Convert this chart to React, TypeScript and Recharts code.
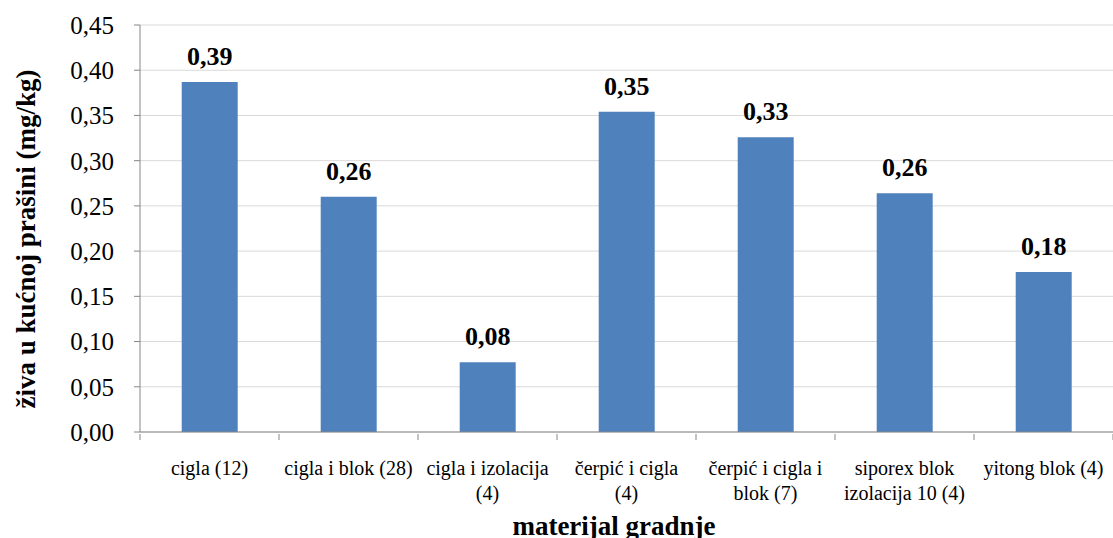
import React from "react";
import { BarChart, Bar, XAxis, YAxis, CartesianGrid, LabelList } from "recharts";

const categories = [
  "cigla (12)",
  "cigla i blok (28)",
  "cigla i izolacija\n(4)",
  "čerpić i cigla\n(4)",
  "čerpić i cigla i\nblok (7)",
  "siporex blok\nizolacija 10 (4)",
  "yitong blok (4)",
];
const values = [0.387, 0.26, 0.077, 0.354, 0.326, 0.264, 0.177];
const yTicks = [0, 0.05, 0.1, 0.15, 0.2, 0.25, 0.3, 0.35, 0.4, 0.45];
const yAxisTitle = "živa u kućnoj prašini (mg/kg)";
const xAxisTitle = "materijal gradnje";

const data = categories.map((name, i) => ({ name, value: values[i] }));

const FONT = "Liberation Serif, Times New Roman, serif";
const AXIS = "#868686";
const fmt = (v: number) => v.toFixed(2).replace(".", ",");

const XTick = (props: any) => {
  const { x, y, payload, index } = props;
  const off = payload && payload.offset ? payload.offset : 69.5;
  const lines = String(payload.value).split("\n");
  return (
    <g>
      <line x1={x + off} y1={y - 6} x2={x + off} y2={y} stroke={AXIS} strokeWidth={1} />
      {index === 0 && (
        <line x1={x - off} y1={y - 6} x2={x - off} y2={y} stroke={AXIS} strokeWidth={1} />
      )}
      <text x={x} y={y + 35} textAnchor="middle" fontFamily={FONT} fontSize={20} fill="#000">
        {lines.map((l, i) => (
          <tspan key={i} x={x} dy={i === 0 ? 0 : 25}>
            {l}
          </tspan>
        ))}
      </text>
    </g>
  );
};

export default function App() {
  return (
    <div style={{ position: "absolute", left: 0, top: 0, width: 1113, height: 538, background: "#fff" }}>
      <BarChart
        width={1113}
        height={538}
        data={data}
        margin={{ top: 25, right: 0, bottom: 0, left: 0 }}
        barCategoryGap="30%"
      >
        <CartesianGrid vertical={false} stroke="#d9d9d9" />
        <XAxis
          dataKey="name"
          height={106}
          interval={0}
          axisLine={{ stroke: AXIS }}
          tickLine={false}
          tick={<XTick />}
          label={{
            content: () => (
              <text x={614} y={535} textAnchor="middle" fontFamily={FONT} fontSize={27} fontWeight="bold" fill="#000">
                {xAxisTitle}
              </text>
            ),
          }}
        />
        <YAxis
          width={140}
          domain={[0, 0.45]}
          ticks={yTicks}
          interval={0}
          tickFormatter={fmt}
          axisLine={{ stroke: AXIS }}
          tickLine={{ stroke: AXIS }}
          tickSize={6}
          tickMargin={20}
          tick={{ fontFamily: FONT, fontSize: 25, fill: "#000" }}
          label={{
            content: () => (
              <text
                x={0}
                y={0}
                transform="translate(35 239) rotate(-90)"
                textAnchor="middle"
                fontFamily={FONT}
                fontSize={27}
                fontWeight="bold"
                fill="#000"
              >
                {yAxisTitle}
              </text>
            ),
          }}
        />
        <Bar dataKey="value" fill="#4f81bd" isAnimationActive={false}>
          <LabelList
            dataKey="value"
            position="top"
            offset={17}
            formatter={(v: any) => fmt(Number(v))}
            style={{ fontFamily: FONT, fontSize: 26, fontWeight: "bold", fill: "#000" }}
          />
        </Bar>
      </BarChart>
    </div>
  );
}
